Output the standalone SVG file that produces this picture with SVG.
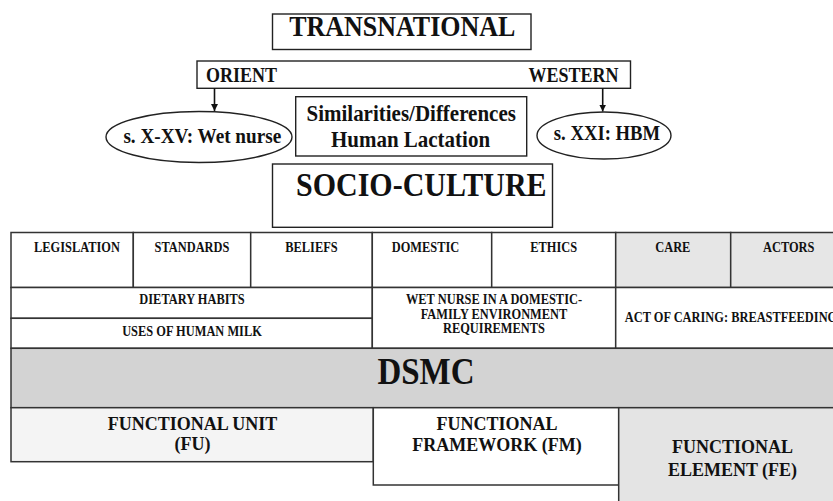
<svg xmlns="http://www.w3.org/2000/svg" width="833" height="501" viewBox="0 0 833 501">
<defs>
<style>
.t{font-family:'Liberation Serif','Times New Roman',Times,serif;font-weight:bold;fill:#111;text-anchor:middle}
.box{fill:#fff;stroke:#222;stroke-width:1.4}
.cell{stroke:#333;stroke-width:1.5}
.s{font-size:12.4px}
.m{font-size:18px}
.conn{stroke:#111;stroke-width:1.6;fill:none}
</style>
<marker id="ah" viewBox="0 0 10 10" refX="10" refY="5" markerWidth="7" markerHeight="7" markerUnits="userSpaceOnUse" orient="auto">
<path d="M0,0 L10,5 L0,10 z" fill="#111"/>
</marker>
</defs>
<rect width="833" height="501" fill="#fff"/>

<g id="transnational">
<rect class="box" x="272.5" y="14" width="258.5" height="35.5"/>
<text class="t" x="402.3" y="36" font-size="26" transform="matrix(1 0 0 1.12 0 -4.32)">TRANSNATIONAL</text>
</g>

<g id="orient-western">
<rect class="box" x="197" y="61" width="433.5" height="27.3"/>
<text class="t" x="206" y="82.5" font-size="18" style="text-anchor:start" transform="matrix(1 0 0 1.12 0 -9.9)">ORIENT</text>
<text class="t" x="618.5" y="82.5" font-size="18" style="text-anchor:end" transform="matrix(1 0 0 1.12 0 -9.9)">WESTERN</text>
</g>

<g id="wet-nurse">
<ellipse class="box" cx="199" cy="137" rx="93" ry="25.5"/>
<text class="t" x="202.3" y="143" font-size="19.2" transform="matrix(1 0 0 1.12 0 -17.16)">s. X-XV: Wet nurse</text>
</g>

<g id="hbm">
<ellipse class="box" cx="604" cy="135.5" rx="67" ry="23.5"/>
<text class="t" x="607" y="140.5" font-size="18.7" transform="matrix(1 0 0 1.12 0 -16.86)">s. XXI: HBM</text>
</g>

<g id="similarities">
<rect class="box" x="295.7" y="96.7" width="231" height="59.3"/>
<text class="t" x="411.2" y="121" font-size="21" transform="matrix(1 0 0 1.12 0 -14.52)">Similarities/Differences</text>
<text class="t" x="410.5" y="147" font-size="21" transform="matrix(1 0 0 1.12 0 -17.64)">Human Lactation</text>
</g>

<g id="socio-culture">
<rect class="box" x="272.5" y="164" width="280" height="63.3"/>
<text class="t" x="421.3" y="196" font-size="30" transform="matrix(1 0 0 1.12 0 -23.52)">SOCIO-CULTURE</text>
</g>

<g id="legislation">
<rect class="cell" x="11" y="232.5" width="122.3" height="55" fill="#fff"/>
<text class="t s" x="77" y="252" transform="matrix(1 0 0 1.15 0 -37.8)">LEGISLATION</text>
</g>
<g id="standards">
<rect class="cell" x="133.3" y="232.5" width="117.4" height="55" fill="#fff"/>
<text class="t s" x="192" y="252" transform="matrix(1 0 0 1.15 0 -37.8)">STANDARDS</text>
</g>
<g id="beliefs">
<rect class="cell" x="250.7" y="232.5" width="121.6" height="55" fill="#fff"/>
<text class="t s" x="311.5" y="252" transform="matrix(1 0 0 1.15 0 -37.8)">BELIEFS</text>
</g>
<g id="domestic">
<rect class="cell" x="372.3" y="232.5" width="119.4" height="55" fill="#fff"/>
<text class="t s" x="425.5" y="252" transform="matrix(1 0 0 1.15 0 -37.8)">DOMESTIC</text>
</g>
<g id="ethics">
<rect class="cell" x="491.7" y="232.5" width="124" height="55" fill="#fff"/>
<text class="t s" x="553.7" y="252" transform="matrix(1 0 0 1.15 0 -37.8)">ETHICS</text>
</g>
<g id="care">
<rect class="cell" x="615.7" y="232.5" width="115" height="55" fill="#e6e6e6"/>
<text class="t s" x="672.8" y="252" transform="matrix(1 0 0 1.15 0 -37.8)">CARE</text>
</g>
<g id="actors">
<rect class="cell" x="730.7" y="232.5" width="116.3" height="55" fill="#e6e6e6"/>
<text class="t s" x="788.7" y="252" transform="matrix(1 0 0 1.15 0 -37.8)">ACTORS</text>
</g>

<g id="dietary-habits">
<rect class="cell" x="11" y="287.5" width="361.3" height="30.8" fill="#fff"/>
<text class="t s" x="192" y="304" transform="matrix(1 0 0 1.15 0 -45.6)">DIETARY HABITS</text>
</g>
<g id="uses-human-milk">
<rect class="cell" x="11" y="318.3" width="361.3" height="30" fill="#fff"/>
<text class="t s" x="192" y="335.7" transform="matrix(1 0 0 1.15 0 -50.36)">USES OF HUMAN MILK</text>
</g>
<g id="wet-nurse-domestic">
<rect class="cell" x="372.3" y="287.5" width="243.4" height="60.8" fill="#fff"/>
<text class="t s" x="494" y="304" transform="matrix(1 0 0 1.15 0 -45.6)">WET NURSE IN A DOMESTIC-</text>
<text class="t s" x="494" y="319" transform="matrix(1 0 0 1.15 0 -47.85)">FAMILY ENVIRONMENT</text>
<text class="t s" x="494" y="333.5" transform="matrix(1 0 0 1.15 0 -50.03)">REQUIREMENTS</text>
</g>
<g id="act-of-caring">
<rect class="cell" x="615.7" y="287.5" width="231.3" height="60.8" fill="#fff"/>
<text class="t s" x="731" y="322" transform="matrix(1 0 0 1.15 0 -48.3)">ACT OF CARING: BREASTFEEDING</text>
</g>

<g id="dsmc">
<rect class="cell" x="11" y="348.3" width="836" height="59.4" fill="#d3d3d3"/>
<text class="t" x="426" y="384.5" font-size="33" transform="matrix(1 0 0 1.14 0 -53.83)">DSMC</text>
</g>

<g id="functional-unit">
<rect class="cell" x="11" y="407.7" width="362.3" height="54" fill="#f4f4f4"/>
<text class="t m" x="192.5" y="430" transform="matrix(1 0 0 1.08 0 -34.4)">FUNCTIONAL UNIT</text>
<text class="t m" x="192.5" y="450.5" transform="matrix(1 0 0 1.08 0 -36.04)">(FU)</text>
</g>
<g id="functional-framework">
<rect class="cell" x="373.3" y="407.7" width="245.4" height="77.3" fill="#fff"/>
<text class="t m" x="497" y="430" transform="matrix(1 0 0 1.08 0 -34.4)">FUNCTIONAL</text>
<text class="t m" x="497" y="451" transform="matrix(1 0 0 1.08 0 -36.08)">FRAMEWORK (FM)</text>
</g>
<g id="functional-element">
<rect class="cell" x="618.7" y="407.7" width="230" height="100" fill="#e4e4e4"/>
<text class="t m" x="732.5" y="453" transform="matrix(1 0 0 1.08 0 -36.24)">FUNCTIONAL</text>
<text class="t m" x="732.5" y="476" transform="matrix(1 0 0 1.08 0 -38.08)">ELEMENT (FE)</text>
</g>

<g id="connectors">
<line class="conn" x1="214.5" y1="88.3" x2="214.5" y2="111" marker-end="url(#ah)"/>
<line class="conn" x1="602.7" y1="88.3" x2="602.7" y2="111.5" marker-end="url(#ah)"/>
</g>
</svg>
